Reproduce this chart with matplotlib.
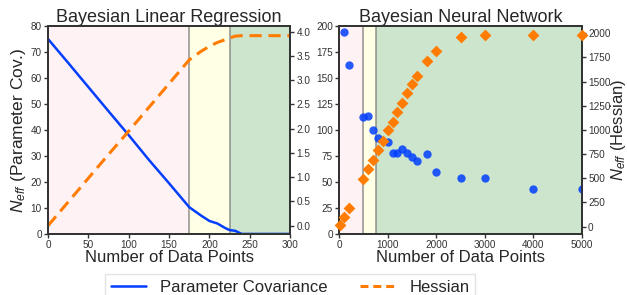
import matplotlib
matplotlib.use("Agg")
import matplotlib.pyplot as plt
from matplotlib.lines import Line2D
import seaborn as sns

sns.set_style("ticks")
plt.rcParams['font.family'] = ['Liberation Sans', 'DejaVu Sans']
plt.rcParams['mathtext.fontset'] = 'custom'
plt.rcParams['mathtext.it'] = 'Liberation Sans:italic'
plt.rcParams['mathtext.rm'] = 'Liberation Sans'

# ---- Data: Bayesian Linear Regression ----
blr_x = [0, 25, 50, 75, 100, 125, 150, 175, 190, 200, 210, 220, 225, 232, 240, 250, 275, 300]
blr_cov = [75, 65.8, 56.5, 47.2, 38.0, 28.5, 19.5, 10.3, 7.0, 5.0, 4.0, 2.2, 1.5, 1.2, 0.0, 0.0, 0.0, 0.0]
blr_hess = [0.0, 0.49, 0.98, 1.47, 1.95, 2.44, 2.93, 3.42, 3.60, 3.70, 3.78, 3.84, 3.87, 3.91, 3.92, 3.92, 3.92, 3.92]

# ---- Data: Bayesian Neural Network ----
bnn_cov_x = [100, 200, 500, 600, 700, 800, 1000, 1100, 1200, 1300, 1400, 1500, 1600, 1800, 2000, 2500, 3000, 4000, 5000]
bnn_cov = [194, 162, 112, 113, 100, 92.6, 88, 77.6, 77.6, 81.4, 78.2, 73.7, 69.9, 76.6, 59.3, 53.8, 53.8, 43, 43]
bnn_hess_x = [10, 100, 200, 500, 600, 700, 800, 900, 1000, 1100, 1200, 1300, 1400, 1500, 1600, 1800, 2000, 2500, 3000, 4000, 5000]
bnn_hess = [18, 97, 196, 493, 593, 689, 789, 885, 996, 1082, 1185, 1281, 1378, 1471, 1560, 1712, 1818, 1957, 1977, 1980, 1980]

blr_regions = [(0, 175), (175, 225), (225, 300)]
bnn_regions = [(0, 500), (500, 750), (750, 5000)]
region_colors = ['pink', 'yellow', 'green']
region_alphas = [0.2, 0.1, 0.2]

blue = '#023eff'
orange = '#ff7c00'

fig = plt.figure(figsize=(6.27, 2.95), dpi=100)
ax1 = fig.add_axes([0.0766, 0.207, 0.386, 0.705])
ax3 = fig.add_axes([0.541, 0.207, 0.387, 0.705])

for ax, regions in ((ax1, blr_regions), (ax3, bnn_regions)):
    for (a, b), c, al in zip(regions, region_colors, region_alphas):
        ax.axvspan(a, b, color=c, alpha=al, lw=0)
    for a, b in regions[1:]:
        ax.axvline(a, color='gray', lw=1.2, alpha=0.8)

ax1.plot(blr_x, blr_cov, color=blue, lw=1.8)
ax1.set_xlim(0, 300)
ax1.set_ylim(0, 80)
ax1.set_xticks(range(0, 301, 50))
ax1.set_yticks(range(0, 81, 10))
ax1.set_title('Bayesian Linear Regression', fontsize=13, pad=2)
ax1.set_xlabel('Number of Data Points', fontsize=12, labelpad=0)
ax1.set_ylabel('$N_{eff}$ (Parameter Cov.)', fontsize=12.5, labelpad=2)
ax2 = ax1.twinx()
ax2.plot(blr_x, blr_hess, color=orange, lw=2.2, ls=(0, (4, 2.2)))
ax2.set_ylim(-0.17, 4.12)
ax2.set_yticks([0, 0.5, 1, 1.5, 2, 2.5, 3, 3.5, 4])

ax3.scatter(bnn_cov_x, bnn_cov, color=blue, s=36, lw=0, zorder=3, alpha=0.85)
ax3.set_xlim(0, 5000)
ax3.set_ylim(0, 200)
ax3.set_xticks(range(0, 5001, 1000))
ax3.set_yticks(range(0, 201, 25))
ax3.set_title('Bayesian Neural Network', fontsize=13, pad=2)
ax3.set_xlabel('Number of Data Points', fontsize=12, labelpad=0)
ax4 = ax3.twinx()
ax4.scatter(bnn_hess_x, bnn_hess, color=orange, marker='D', s=36, lw=0, zorder=3, clip_on=False)
ax4.set_ylim(-75, 2075)
ax4.set_yticks(range(0, 2001, 250))
ax4.set_ylabel('$N_{eff}$ (Hessian)', fontsize=12, labelpad=-1)

for ax in (ax1, ax2, ax3, ax4):
    ax.tick_params(labelsize=7.2, length=3, width=1, pad=1.5, colors='#333333', labelcolor='#333333')
    for s in ax.spines.values():
        s.set_color('#333333')
        s.set_linewidth(1.3)

handles = [Line2D([], [], color=blue, lw=1.8), Line2D([], [], color=orange, lw=2.2, ls=(0, (2.6, 1.6)))]
fig.legend(handles, ['Parameter Covariance', 'Hessian'], ncol=2, loc='upper center',
           bbox_to_anchor=(0.4625, 0.1), fontsize=12, frameon=True, fancybox=False,
           edgecolor='#dddddd', columnspacing=2.0, handlelength=2.1, handletextpad=0.84,
           borderpad=0.35)

fig.savefig('out.png', dpi=100)
